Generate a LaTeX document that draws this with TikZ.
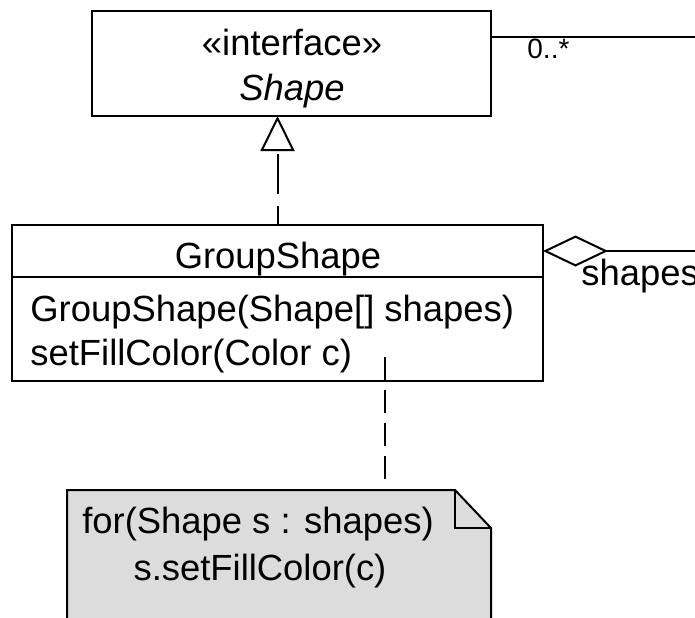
\documentclass[tikz,border=0pt]{standalone}
\usepackage{fontspec}
\setmainfont{Liberation Sans}
\usetikzlibrary{arrows.meta,positioning}
\definecolor{notegray}{RGB}{220,220,220}
\newcommand{\umlfont}{\fontsize{18.2}{22}\selectfont}
\newcommand{\multfont}{\fontsize{14}{16}\selectfont}

\begin{document}
\begin{tikzpicture}[x=0.5pt, y=-0.5pt,
  umlbox/.style={draw, line width=1pt, inner sep=0pt, outer sep=0pt, anchor=north west},
  lab/.style={font=\umlfont, inner sep=0pt, anchor=base},
  realize/.style={line width=1pt, dash pattern=on 9.5pt off 6pt on 20pt off 6pt,
    -{Triangle[open, length=17.5pt, width=17pt, line width=1pt]}},
  agg/.style={line width=1pt,
    {Diamond[open, length=32.5pt, width=15.5pt, line width=1pt]}-},
  notelink/.style={line width=1pt, dash pattern=on 11.5pt off 5pt}
]
\useasboundingbox (0,0) rectangle (695,617);

% interface
\node[umlbox, minimum width=199.5pt, minimum height=52.5pt] (iface) at (92,11) {};
\node[lab] (stereo) at (292,55) {«interface»};
\node[lab, font=\umlfont\itshape] (ifname) at (292,100) {Shape};

% class with its operations
\node[umlbox, minimum width=265.5pt, minimum height=26pt] (gs) at (12,225) {};
\node[umlbox, minimum width=265.5pt, minimum height=52pt] (gsops) at (gs.south west) {};
\node[lab] (gsname) at (278,268) {GroupShape};
\node[lab, anchor=base west] (op1) at (30,321) {GroupShape(Shape[] shapes)};
\node[lab, anchor=base west] (op2) at (30,365) {setFillColor(Color c)};

% note
\fill[notegray] (67,490) -- (455,490) -- (491,528) -- (491,640) -- (67,640) -- cycle;
\draw[line width=1pt] (67,640) -- (67,490) -- (455,490) -- (491,528) -- (491,640);
\draw[line width=1pt] (455,490) -- (455,528) -- (491,528);
\node[lab] (note1) at (258,533) {for(Shape s : shapes)};
\node[lab] (note2) at (260,580) {s.setFillColor(c)};
\coordinate (notetop) at (385,490);
\coordinate (noteend) at (385,357);

% connectors
\coordinate (assocR) at (700,37);
\coordinate (aggR) at (700,251);
\draw[realize] (gs.north) -- (gs.north |- iface.south);
\draw[line width=1pt] (assocR -| iface.east) -- (assocR);
\draw[agg] (aggR -| gs.east) -- (aggR);
\draw[notelink] (noteend) -- (notetop);

\node[font=\multfont, inner sep=0pt, anchor=base west] (mult) at (527,58) {0..*};
\node[lab, anchor=base west] (role) at (581,285) {shapes};
\end{tikzpicture}
\end{document}
